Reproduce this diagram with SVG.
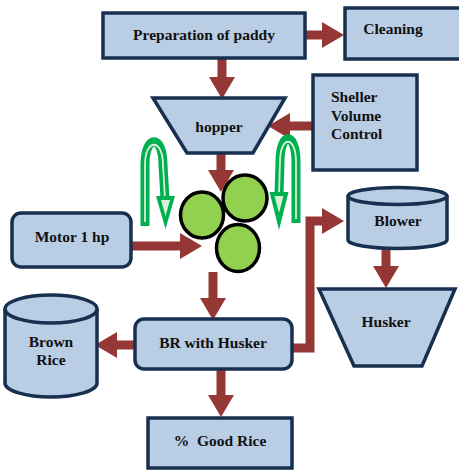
<svg xmlns="http://www.w3.org/2000/svg" width="459" height="475" viewBox="0 0 459 475">
  <style>
    .box{fill:#b9cde5;stroke:#17304f;stroke-width:3.5;stroke-linejoin:miter}
    .lbl{font-family:'Liberation Serif','Times New Roman',serif;font-weight:bold;font-size:15.5px;fill:#111}
    .c{text-anchor:middle}
    .arr{fill:none;stroke:#953735;stroke-width:9;stroke-linecap:butt;stroke-linejoin:miter}
    .roll{fill:#92d050;stroke:#000;stroke-width:3.5}
    .gout{fill:none;stroke:#00b050;stroke-width:9}
    .gin{fill:none;stroke:#d8f0d4;stroke-width:1.8}
    .ghead{fill:#00b050}
    .ghin{fill:#d8f0d4}
  </style>
  <defs>
    <marker id="ah" markerUnits="userSpaceOnUse" markerWidth="23" markerHeight="26" refX="0" refY="13" orient="auto">
      <path d="M0,0 L22,13 L0,26 z" fill="#953735"/>
    </marker>
  </defs>
  <rect width="459" height="475" fill="#fff"/>

  <g id="connectors">
    <line class="arr" x1="305" y1="35" x2="322" y2="35" marker-end="url(#ah)"/>
    <line class="arr" x1="222" y1="58" x2="222" y2="77" marker-end="url(#ah)"/>
    <line class="arr" x1="313" y1="126" x2="290" y2="126" marker-end="url(#ah)"/>
    <line class="arr" x1="221" y1="153" x2="221" y2="170" marker-end="url(#ah)"/>
    <line class="arr" x1="131" y1="246" x2="180" y2="246" marker-end="url(#ah)"/>
    <line class="arr" x1="213" y1="272" x2="213" y2="298" marker-end="url(#ah)"/>
    <line class="arr" x1="135" y1="345" x2="117" y2="345" marker-end="url(#ah)"/>
    <line class="arr" x1="221" y1="369" x2="221" y2="395" marker-end="url(#ah)"/>
    <polyline class="arr" points="292,348 310,348 310,221 322,221" marker-end="url(#ah)"/>
    <line class="arr" x1="386" y1="248" x2="386" y2="266" marker-end="url(#ah)"/>
  </g>

  <g id="prep">
    <rect class="box" x="103" y="13" width="202" height="45"/>
    <text class="lbl c" x="204" y="40">Preparation of paddy</text>
  </g>
  <g id="cleaning">
    <rect class="box" x="345" y="8" width="116" height="51"/>
    <text class="lbl c" x="393" y="34">Cleaning</text>
  </g>
  <g id="hopper">
    <polygon class="box" points="153,98 285,98 253,153 187,153"/>
    <text class="lbl c" x="219" y="132">hopper</text>
  </g>
  <g id="sheller">
    <rect class="box" x="313" y="75" width="104" height="95"/>
    <text class="lbl" x="331" y="102">Sheller</text>
    <text class="lbl" x="331" y="121">Volume</text>
    <text class="lbl" x="331" y="139">Control</text>
  </g>
  <g id="rollers">
    <ellipse class="roll" cx="202" cy="215" rx="21.5" ry="23"/>
    <ellipse class="roll" cx="245" cy="198" rx="22" ry="23"/>
    <ellipse class="roll" cx="238" cy="248" rx="21.5" ry="23.5"/>
  </g>
  <g id="rotation-left">
    <path class="gout" d="M145,226 L145,165 C145,134 163,134 163,165 L165,199"/>
    <path class="gin" d="M145,222 L145,165 C145,138 163,138 163,165 L165,199"/>
    <polygon class="ghead" points="156,196 175,196 165.5,229"/>
    <polygon class="ghin" points="161,200 170,200 165.5,216"/>
  </g>
  <g id="rotation-right">
    <path class="gout" d="M296,223 L296,162 C296,131 280,131 280,162 L279,194"/>
    <path class="gin" d="M296,219 L296,162 C296,135 280,135 280,162 L279,194"/>
    <polygon class="ghead" points="269.5,192 288.5,192 279,230"/>
    <polygon class="ghin" points="274.5,196 283.5,196 279,213"/>
  </g>
  <g id="motor">
    <rect class="box" x="12" y="213" width="119" height="54" rx="9"/>
    <text class="lbl c" x="72" y="242">Motor 1 hp</text>
  </g>
  <g id="br-husker">
    <rect class="box" x="135" y="319" width="157" height="50" rx="9"/>
    <text class="lbl c" x="213" y="348">BR with Husker</text>
  </g>
  <g id="brown-rice">
    <path class="box" d="M5,309 L5,383 A46,14 0 0 0 97,383 L97,309"/>
    <ellipse class="box" cx="51" cy="309" rx="46" ry="14"/>
    <text class="lbl c" x="51" y="347">Brown</text>
    <text class="lbl c" x="51" y="365">Rice</text>
  </g>
  <g id="good-rice">
    <rect class="box" x="148" y="418" width="144" height="50"/>
    <text class="lbl c" x="220" y="446" xml:space="preserve">%  Good Rice</text>
  </g>
  <g id="blower">
    <path class="box" d="M348,196 L348,240 A49.5,8.5 0 0 0 447,240 L447,196"/>
    <ellipse class="box" cx="397.5" cy="196" rx="49.5" ry="8.5"/>
    <text class="lbl c" x="398" y="226">Blower</text>
  </g>
  <g id="husker">
    <polygon class="box" points="319,289 455,289 422,366 354,366"/>
    <text class="lbl c" x="386" y="327">Husker</text>
  </g>
</svg>
